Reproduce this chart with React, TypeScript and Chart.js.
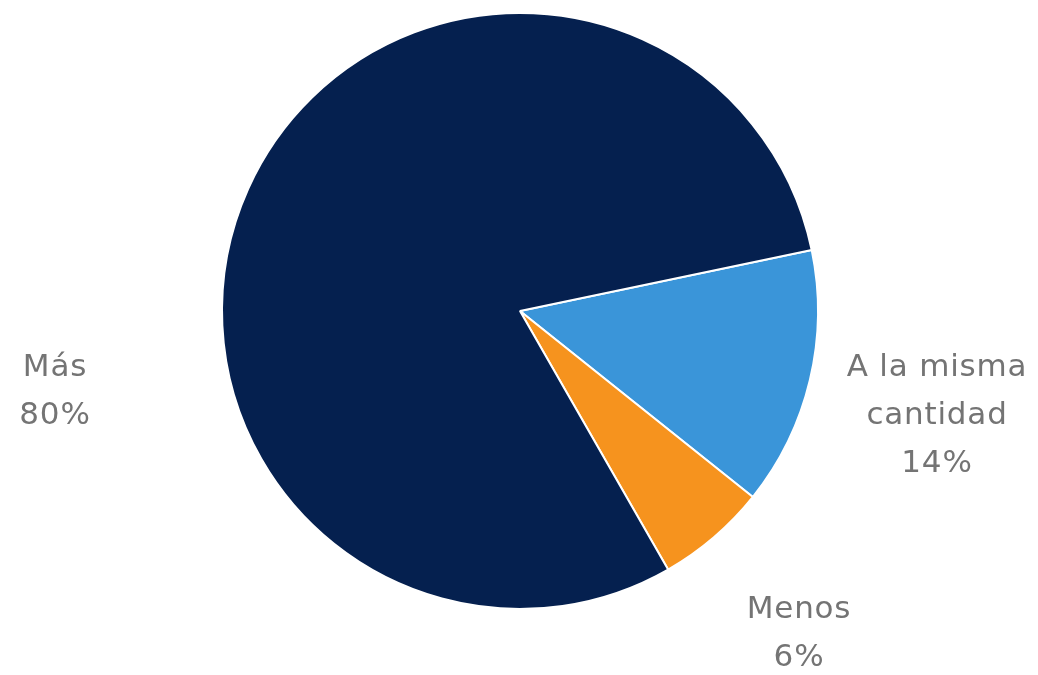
import React, { useEffect, useRef } from "react";
import { Chart, registerables } from "chart.js";

Chart.register(...registerables);

const categories = ["A la misma cantidad", "Menos", "Más"];
const values = [14, 6, 80];
const colors = ["#3A95D9", "#F6931E", "#05204F"];
const labelLines = [["A la misma", "cantidad", "14%"], ["Menos", "6%"], ["Más", "80%"]];
// label block centres (x, y of first line)
const labelAnchors = [
  [937, 368],
  [799, 610],
  [55, 368],
];

const labelPlugin = {
  id: "outerLabels",
  afterDraw(chart: any) {
    const ctx = chart.ctx;
    ctx.save();
    ctx.font = "31px 'DejaVu Sans'";
    (ctx as any).letterSpacing = "0.8px";
    ctx.fillStyle = "#747474";
    ctx.textAlign = "center";
    ctx.textBaseline = "middle";
    labelLines.forEach((lines, i) => {
      const [x, y] = labelAnchors[i];
      lines.forEach((t, j) => {
        ctx.fillText(t, x, y + j * 48);
      });
    });
    ctx.restore();
  },
};

export default function App() {
  const ref = useRef<HTMLCanvasElement>(null);
  useEffect(() => {
    if (!ref.current) return;
    const chart = new Chart(ref.current, {
      type: "pie",
      data: {
        labels: categories,
        datasets: [
          {
            data: values,
            backgroundColor: colors,
            borderColor: "#ffffff",
            borderWidth: 2,
          },
        ],
      },
      options: {
        animation: false,
        responsive: false,
        rotation: 78.2,
        layout: { padding: { top: 12, bottom: 65, left: 221, right: 219 } },
        plugins: { legend: { display: false }, tooltip: { enabled: false } },
      },
      plugins: [labelPlugin],
    });
    return () => chart.destroy();
  }, []);
  return (
    <div style={{ position: "absolute", left: 0, top: 0, width: 1038, height: 675, background: "#fff" }}>
      <canvas ref={ref} width={1038} height={675} style={{ width: 1038, height: 675 }} />
    </div>
  );
}
